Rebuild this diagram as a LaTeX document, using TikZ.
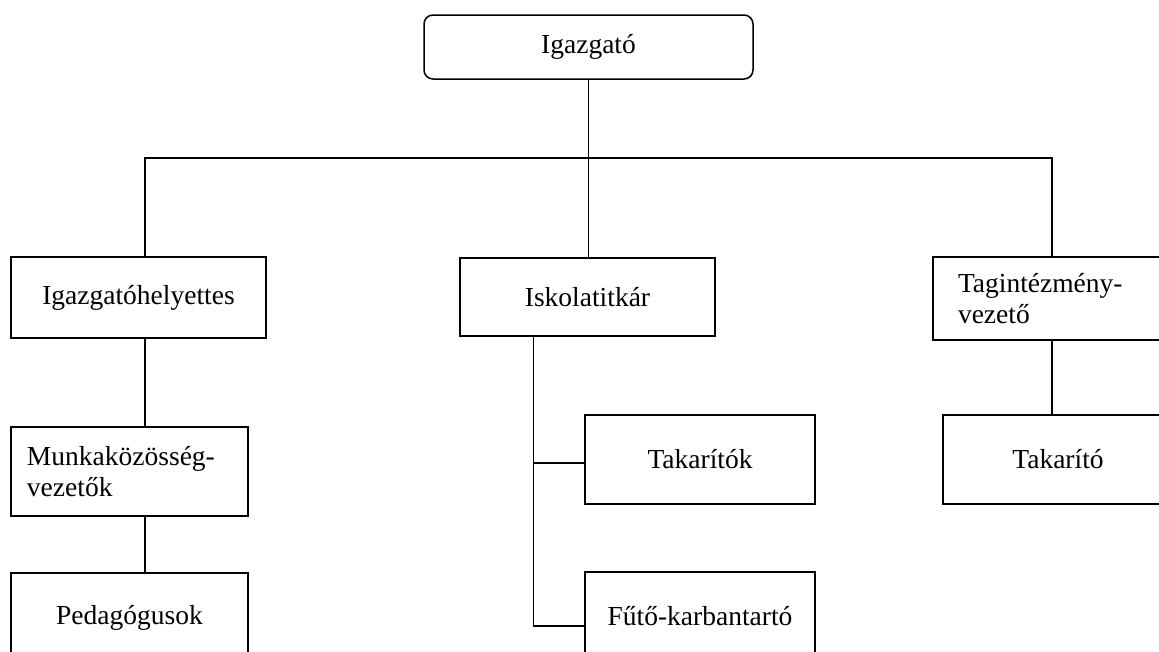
\documentclass[tikz,border=0pt]{standalone}
\usepackage{fontspec}
\setmainfont{Liberation Serif}
\begin{document}
\begin{tikzpicture}[x=1pt,y=-1pt,
  box/.style={draw, line width=1.5pt, inner sep=0pt, font=\fontsize{27.5}{31}\selectfont},
  leftbox/.style={box, align=left, text width=#1},
  link/.style={line width=1.2pt}]
\useasboundingbox (0,0) rectangle (1159,651);
\clip (0,0) rectangle (1159,651);
% boxes
\node[box, rounded corners=9pt, minimum width=329pt, minimum height=64pt] (igaz) at (588.5,47) {Igazgató};
\node[box, minimum width=255pt, minimum height=81pt] (ih) at (138.5,297.5) {Igazgatóhelyettes};
\node[box, minimum width=255pt, minimum height=78pt] (isk) at (587.5,297) {Iskolatitkár};
\node[leftbox=205pt, inner xsep=25pt, minimum height=83pt] (tag) at (1060.5,298.5) {Tagintézmény-\\vezető};
\node[leftbox=205pt, inner xsep=16pt, minimum height=89pt] (mk) at (129.5,471.5) {Munkaközösség-\\vezetők};
\node[box, minimum width=237pt, minimum height=89pt] (ped) at (129.5,617.5) {Pedagógusok};
\node[box, minimum width=230pt, minimum height=89pt] (tk) at (700,459.5) {Takarítók};
\node[box, minimum width=230pt, minimum height=89pt] (fk) at (700,616.5) {Fűtő-karbantartó};
\node[box, minimum width=230pt, minimum height=89pt] (tko) at (1058,459.5) {Takarító};
% helper coordinates
\coordinate (busy) at (0,158);
\coordinate (ihtop) at ([xshift=6.5pt]ih.north);
\coordinate (ihbot) at ([xshift=6.5pt]ih.south);
\coordinate (tagtop) at ([xshift=-8.5pt]tag.north);
\coordinate (tagbot) at ([xshift=-8.5pt]tag.south);
\coordinate (spine) at ([xshift=74pt]isk.south west);
\coordinate (tkj) at ([yshift=-3.5pt]tk.west);
\coordinate (fkj) at ([yshift=-9.5pt]fk.west);
% connectors
\draw[link] (igaz.south) -- (igaz.south |- isk.north);
\draw[link] (ihtop) -- (ihtop |- busy) -- (tagtop |- busy) -- (tagtop);
\draw[link] (ihbot) -- (ihbot |- mk.north);
\draw[link] (ihbot |- mk.south) -- (ihbot |- ped.north);
\draw[link] (spine) |- (fkj);
\draw[link] (spine |- tkj) -- (tkj);
\draw[link] (tagbot) -- (tagbot |- tko.north);
\end{tikzpicture}
\end{document}
